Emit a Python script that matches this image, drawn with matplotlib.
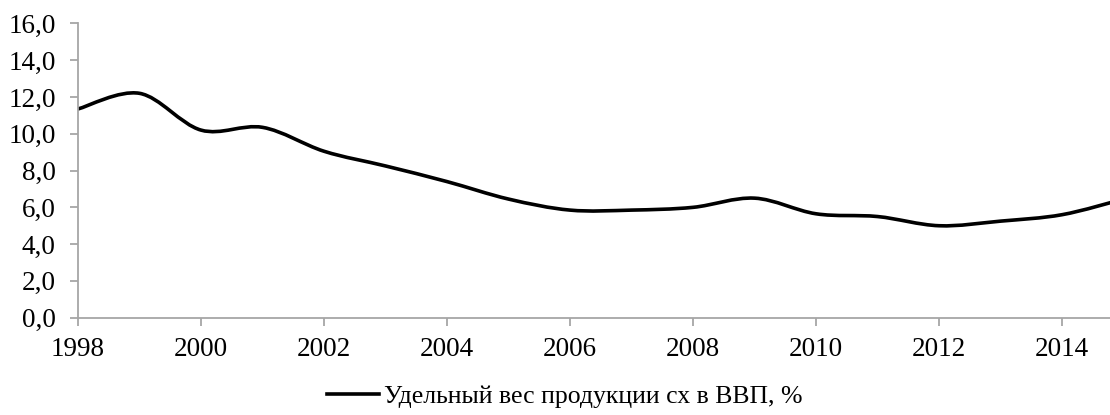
import numpy as np
import matplotlib
matplotlib.use("Agg")
import matplotlib.pyplot as plt
from matplotlib.path import Path
from matplotlib.patches import PathPatch
from matplotlib.lines import Line2D
from matplotlib.ticker import FuncFormatter

plt.rcParams['font.family'] = ['Liberation Serif', 'DejaVu Serif']

# data
years = [1998, 1999, 2000, 2001, 2002, 2003, 2004, 2005, 2006,
         2007, 2008, 2009, 2010, 2011, 2012, 2013, 2014, 2015]
share = [11.35, 12.2, 10.2, 10.35, 9.05, 8.25, 7.4, 6.45, 5.85,
         5.85, 6.0, 6.5, 5.65, 5.5, 5.0, 5.25, 5.6, 6.45]
series_name = "Удельный вес продукции сх в ВВП, %"
y_ticks = [0, 2, 4, 6, 8, 10, 12, 14, 16]
x_ticks = [1998, 2000, 2002, 2004, 2006, 2008, 2010, 2012, 2014]


def smooth_path(xs, ys):
    # spreadsheet-style smoothed line: cubic bezier through every point
    xs = np.asarray(xs, float)
    ys = np.asarray(ys, float)
    n = len(xs)
    verts = [(xs[0], ys[0])]
    codes = [Path.MOVETO]
    for i in range(n - 1):
        p0 = (xs[max(i - 1, 0)], ys[max(i - 1, 0)])
        p1 = (xs[i], ys[i])
        p2 = (xs[i + 1], ys[i + 1])
        p3 = (xs[min(i + 2, n - 1)], ys[min(i + 2, n - 1)])
        c1 = (p1[0] + (p2[0] - p0[0]) / 6, p1[1] + (p2[1] - p0[1]) / 6)
        c2 = (p2[0] - (p3[0] - p1[0]) / 6, p2[1] - (p3[1] - p1[1]) / 6)
        verts += [c1, c2, p2]
        codes += [Path.CURVE4] * 3
    return Path(verts, codes)


fig = plt.figure(figsize=(11.1, 4.15), dpi=100)
ax = fig.add_axes([0.0703, 0.2345, 0.9297, 0.709])

line = PathPatch(smooth_path(years, share), facecolor='none', edgecolor='black',
                 lw=2.6, capstyle='round', joinstyle='round')
ax.add_patch(line)

ax.set_xlim(1998, 2014.78)
ax.set_ylim(0, 16)
ax.set_xticks(x_ticks)
ax.set_yticks(y_ticks)
ax.yaxis.set_major_formatter(FuncFormatter(lambda v, p: f"{v:.1f}".replace('.', ',')))

grey = '#a6a6a6'
for s in ['top', 'right']:
    ax.spines[s].set_visible(False)
for s in ['left', 'bottom']:
    ax.spines[s].set_color(grey)
    ax.spines[s].set_linewidth(1.3)
ax.tick_params(axis='both', colors=grey, width=1.3, length=6, direction='out',
               labelcolor='black', labelsize=19.5)
ax.tick_params(axis='x', pad=8)
ax.tick_params(axis='y', pad=10)

handle = Line2D([], [], color='black', lw=2.6)
fig.legend([handle], [series_name], loc='center', bbox_to_anchor=(0.509, 0.045),
           frameon=False, fontsize=18.5, handlelength=2.0, handletextpad=0.2)

fig.savefig("out.png", dpi=100)
